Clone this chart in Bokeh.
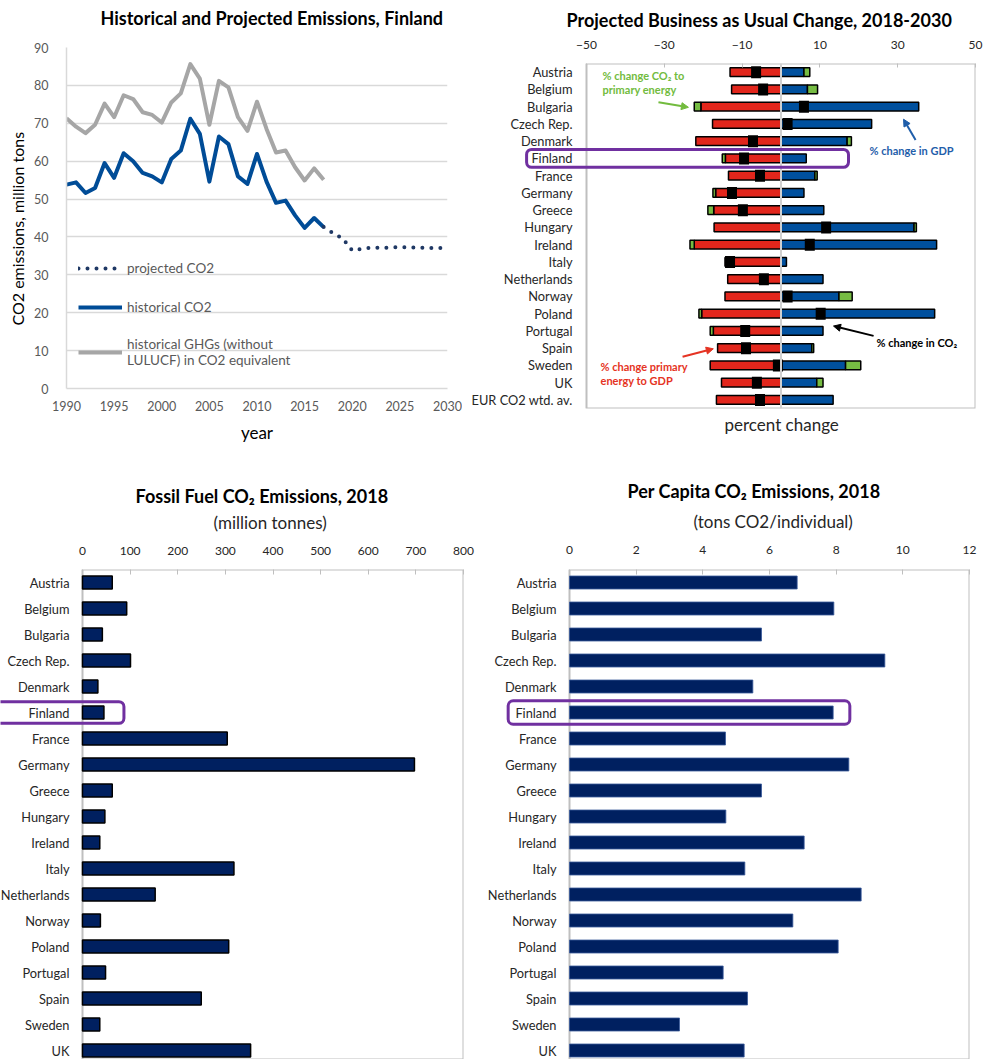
import math
from bokeh.plotting import figure
from bokeh.models import (Range1d, FixedTicker, Span, BoxAnnotation, Arrow, NormalHead, Legend,
                          LegendItem, Title, Label)
from bokeh.layouts import row, column
from bokeh.embed import file_html
from bokeh.resources import INLINE
from bokeh.core.properties import value

# ---------------- data ----------------
years_hist = list(range(1990, 2018))
co2_hist = [53.8, 54.4, 51.6, 52.9, 59.5, 55.6, 62.1, 60.0, 56.9, 56.0, 54.4, 60.6, 62.8, 71.2,
            67.2, 54.6, 66.5, 64.5, 56.0, 54.0, 61.9, 54.6, 49.0, 49.6, 45.7, 42.4, 45.0, 42.6]
ghg_hist = [71.3, 69.1, 67.4, 69.6, 75.2, 71.6, 77.4, 76.4, 72.9, 72.2, 70.2, 75.5, 77.9, 85.6,
            81.8, 69.6, 81.2, 79.5, 71.6, 68.0, 75.7, 68.5, 62.3, 62.8, 58.4, 54.9, 58.1, 55.1]
years_proj = list(range(2017, 2031))
co2_proj = [42.6, 41.0, 39.6, 36.4, 36.9, 37.2, 37.1, 37.2, 37.3, 37.2, 37.2, 37.1, 37.1, 37.0]
year_ticks = list(range(1990, 2031, 5))
emis_ticks = list(range(0, 91, 10))

bau_countries = ["Austria", "Belgium", "Bulgaria", "Czech Rep.", "Denmark", "Finland", "France",
                 "Germany", "Greece", "Hungary", "Ireland", "Italy", "Netherlands", "Norway",
                 "Poland", "Portugal", "Spain", "Sweden", "UK", "EUR CO2 wtd. av."]
gdp_change = [5.9, 6.8, 35.4, 23.3, 17.0, 6.5, 8.7, 5.9, 11.0, 34.2, 40.0, 1.4, 10.8, 14.9,
              39.5, 10.8, 7.9, 16.6, 9.2, 13.4]
energy_to_gdp_change = [-13.1, -12.7, -20.6, -17.6, -21.9, -14.3, -13.5, -16.8, -17.3, -17.2,
                        -22.3, -14.4, -13.7, -14.4, -20.4, -17.4, -16.3, -18.2, -15.3, -16.6]
co2_to_energy_change = [1.5, 2.6, -1.7, 0.0, 1.1, -0.8, 0.6, -0.7, -1.5, 0.6, -1.1, 0.0, 0.0, 3.4,
                        -0.7, -0.8, 0.5, 3.9, 1.6, 0.0]
co2_change = [-6.4, -4.6, 5.9, 1.7, -7.2, -9.5, -5.4, -12.6, -9.8, 11.6, 7.4, -13.1, -4.4, 1.7,
              10.2, -9.2, -9.0, -0.8, -6.2, -5.4]
bau_ticks = [-50, -30, -10, 10, 30, 50]

countries = bau_countries[:19]
fossil_co2 = [62.5, 92.8, 41.7, 100.8, 32.3, 45.0, 303.9, 697.0, 62.5, 47.0, 36.3, 318.0, 152.6,
              37.6, 307.0, 48.4, 249.4, 36.3, 353.0]
fossil_ticks = list(range(0, 801, 100))
per_capita = [6.83, 7.93, 5.76, 9.46, 5.50, 7.91, 4.68, 8.38, 5.76, 4.69, 7.04, 5.26, 8.75, 6.70,
              8.06, 4.61, 5.34, 3.30, 5.24]
percap_ticks = list(range(0, 13, 2))
highlight = "Finland"

# ---------------- style ----------------
FONT = "Lato"
TXT = "#262626"
GRID = "#D9D9D9"
FRAME = "#BFBFBF"
PURPLE = "#7030A0"
RED = "#E2261C"
BLUE = "#00509E"
GREEN = "#76BC43"
NAVY = "#002060"


def make_fig(w, h, left, right, top, bottom, x_range, y_range, xloc="below", yloc="left"):
    p = figure(width=w, height=h, x_range=x_range, y_range=y_range, output_backend="svg",
               toolbar_location=None, title=None, x_axis_location=xloc, y_axis_location=yloc,
               min_border_left=left, min_border_right=right,
               min_border_top=top, min_border_bottom=bottom)
    p.outline_line_color = None
    p.xgrid.grid_line_color = None
    p.ygrid.grid_line_color = None
    for ax in p.axis:
        ax.major_label_text_font = FONT
        ax.major_label_text_color = TXT
        ax.minor_tick_line_color = None
        ax.major_tick_out = 0
        ax.major_tick_in = 0
    return p


def gap(p, px):
    # an empty title used only as vertical spacing in the panel above the frame
    p.add_layout(Title(text=" ", text_font_size="1px", standoff=max(px - 1.2, 0)), "above")


def add_title(p, text, size, offset, standoff, bold=True, side="above", color="black"):
    # offset = distance of the text's start from the frame's left (or bottom) edge
    p.add_layout(Title(text=text, align="left", offset=offset, standoff=standoff,
                       text_font=FONT, text_font_size=f"{size}px",
                       text_font_style="bold" if bold else "normal", text_color=color), side)


def note(p, x, y, text, color):
    p.add_layout(Label(x=x, y=y, text=text, text_font=FONT, text_font_size="11px",
                       text_font_style="bold", text_color=color, text_align="left",
                       text_baseline="middle"))


def arrow(p, x0, y0, x1, y1, color):
    p.add_layout(Arrow(end=NormalHead(size=7, fill_color=color, line_color=color),
                       x_start=x0, y_start=y0, x_end=x1, y_end=y1,
                       line_color=color, line_width=2))


def box(p, left, right, top=None, bottom=None, color=FRAME, width=2, radius=0, level="annotation"):
    p.add_layout(BoxAnnotation(left=left, right=right, top=top, bottom=bottom, fill_alpha=0,
                               line_color=color, line_alpha=1.0, line_width=width,
                               border_radius=radius, level=level))


# ---------------- chart 1: line chart ----------------
p1 = make_fig(462, 468, 66, 15, 47, 80, Range1d(1990, 2030), Range1d(0, 90))
p1.xaxis.ticker = FixedTicker(ticks=year_ticks)
p1.yaxis.ticker = FixedTicker(ticks=emis_ticks)
p1.ygrid.grid_line_color = GRID
p1.ygrid.grid_line_width = 1.5
for ax in p1.axis:
    ax.axis_line_color = GRID
    ax.axis_line_width = 1.5
    ax.major_label_text_color = "#595959"
    ax.major_label_text_font_size = "12.5px"
    ax.axis_label_text_font = FONT
    ax.axis_label_text_font_style = "normal"
    ax.axis_label_text_color = "black"
p1.xaxis.major_label_standoff = 12
p1.yaxis.major_label_standoff = 18
p1.xaxis.axis_label = "year"
p1.xaxis.axis_label_text_font_size = "17px"
p1.xaxis.axis_label_standoff = 8
# vertical axis title, placed as a side title so that it is centred like the reference
add_title(p1, "CO2 emissions, million tons", 16, 63, 9, bold=False, side="left")

r_ghg = p1.line(years_hist, ghg_hist, line_color="#A6A6A6", line_width=4, line_join="round")
r_hist = p1.line(years_hist, co2_hist, line_color="#004C97", line_width=4, line_join="round")
r_proj = p1.line(years_proj, co2_proj, line_color="#1F3864", line_width=4, line_dash="0 9",
                 line_cap="round")
leg = Legend(items=[LegendItem(label="projected CO2", renderers=[r_proj]),
                    LegendItem(label="historical CO2", renderers=[r_hist]),
                    LegendItem(label="historical GHGs (without\nLULUCF) in CO2 equivalent",
                               renderers=[r_ghg])],
             location=(12, 20), orientation="vertical", glyph_width=44, glyph_height=20,
             label_height=20, label_standoff=5, spacing=19, padding=0, margin=0,
             border_line_color=None, background_fill_alpha=0,
             label_text_font=FONT, label_text_font_size="13.5px", label_text_color="#595959",
             label_text_line_height=1.4)
p1.add_layout(leg)
gap(p1, 17)
add_title(p1, "Historical and Projected Emissions, Finland", 18, 34, 0)

# ---------------- chart 2: BAU decomposition ----------------
n = len(bau_countries)
idx = list(range(n))
P2_FRAME_LEFT, P2_CHART_LEFT, P2_CHART_RIGHT = 466, 586, 975
u2 = (bau_ticks[-1] - bau_ticks[0]) / (P2_CHART_RIGHT - P2_CHART_LEFT)
x2_start = bau_ticks[0] - (P2_CHART_LEFT - P2_FRAME_LEFT) * u2
p2 = make_fig(523, 468, 4, 10, 61, 60, Range1d(x2_start, bau_ticks[-1]),
              Range1d(n - 0.5, -0.5), xloc="above", yloc=None)
p2.xaxis.ticker = FixedTicker(ticks=bau_ticks)
p2.xaxis.axis_line_color = None
p2.xaxis.major_tick_in = 4
p2.xaxis.major_tick_line_color = FRAME
p2.xaxis.major_label_standoff = 15
p2.xaxis.major_label_text_font_size = "12px"
box(p2, bau_ticks[0], bau_ticks[-1], level="underlay")
p2.text(x=[bau_ticks[0]] * n, y=idx, text=bau_countries, x_offset=-14, text_align="right",
        text_baseline="middle", text_font=value(FONT), text_font_size="12.8px", text_color=TXT)

p2.hbar(y=idx, left=0, right=gdp_change, height=0.5, fill_color=BLUE, line_color="black",
        line_width=1.5)
p2.hbar(y=idx, left=energy_to_gdp_change, right=0, height=0.5, fill_color=RED,
        line_color="black", line_width=1.5)
g_y, g_l, g_r = [], [], []
for i, (g, e, c) in enumerate(zip(gdp_change, energy_to_gdp_change, co2_to_energy_change)):
    if c == 0:
        continue
    g_y.append(i)
    if c > 0:
        g_l.append(g); g_r.append(g + c)
    else:
        g_l.append(e + c); g_r.append(e)
p2.hbar(y=g_y, left=g_l, right=g_r, height=0.5, fill_color=GREEN, line_color="black",
        line_width=1.5)
p2.rect(x=co2_change, y=idx, width=10, height=12, width_units="screen", height_units="screen",
        fill_color="black", line_color=None)
p2.add_layout(Span(location=0, dimension="height", line_color="#D0D0D0", line_width=2))

fi = bau_countries.index(highlight)
box(p2, -65.4, 17.35, fi - 0.52, fi + 0.52, color=PURPLE, width=3, radius=5)

add_title(p2, "Projected Business as Usual Change, 2018-2030", 18, 100, 13)
add_title(p2, "percent change", 17, 258, 6, bold=False, side="below", color=TXT)

AG, AB, AR = "#72BB3E", "#1F5EAA", "#E53323"
note(p2, -45.9, 0.17, "% change CO₂ to", AG)
note(p2, -45.9, 1.0, "primary energy", AG)
arrow(p2, -31.5, 1.75, -23.8, 2.04, AG)
note(p2, 22.75, 4.57, "% change in GDP", AB)
arrow(p2, 34.6, 3.94, 31.5, 2.73, AB)
note(p2, 24.55, 15.68, "% change in CO₂", "black")
arrow(p2, 23.8, 15.29, 13.5, 14.72, "black")
note(p2, -46.4, 17.06, "% change primary", AR)
note(p2, -46.4, 17.89, "energy to GDP", AR)
arrow(p2, -25.3, 16.5, -17.4, 16.04, AR)

# ---------------- chart 3 & 4: bar charts ----------------
ROW_PX = 26
m = len(countries)
cidx = list(range(m))
ci = countries.index(highlight)
BOT_H, BOT_TOP = 591, 101
yr = (BOT_H - BOT_TOP) / ROW_PX - 0.5


def bar_chart(w, right_border, chart_left_px, chart_right_px, ticks, vals, outline, box_lr,
              box_half, tick_standoff):
    u = (ticks[-1] - ticks[0]) / (chart_right_px - chart_left_px)
    x_start = ticks[0] - chart_left_px * u
    p = make_fig(w, BOT_H, 0, right_border, BOT_TOP, 0, Range1d(x_start, ticks[-1]),
                 Range1d(yr, -0.5), xloc="above", yloc=None)
    p.xaxis.ticker = FixedTicker(ticks=ticks)
    p.xaxis.axis_line_color = None
    p.xaxis.major_tick_in = 5
    p.xaxis.major_tick_line_color = FRAME
    p.xaxis.major_label_standoff = tick_standoff
    p.xaxis.major_label_text_font_size = "12px"
    box(p, ticks[0], ticks[-1], level="underlay")
    if outline:
        p.hbar(y=cidx, left=0, right=vals, height=0.5, fill_color=NAVY, line_color="black",
               line_width=1.5)
    else:
        p.hbar(y=cidx, left=0, right=vals, height=0.5, fill_color=NAVY, line_color="#3A5A9A",
               line_width=0.8)
    p.text(x=[ticks[0]] * m, y=cidx, text=countries, x_offset=-13, text_align="right",
           text_baseline="middle", text_font=value(FONT), text_font_size="12.8px",
           text_color=TXT)
    box(p, box_lr[0], box_lr[1], ci - box_half, ci + box_half, color=PURPLE, width=3, radius=5)
    return p


p3 = bar_chart(478, 15, 82, 463, fossil_ticks, fossil_co2, True, (-200, 87), 0.415, 15)
gap(p3, 9.5)
add_title(p3, "(million tonnes)", 17, 213, 0, bold=False, color=TXT)
gap(p3, 1.2)
add_title(p3, "Fossil Fuel CO₂ Emissions, 2018", 18, 135, 0)

p4 = bar_chart(507, 16, 91, 491, percap_ticks, per_capita, False, (-1.84, 8.41), 0.45, 16)
gap(p4, 8.9)
add_title(p4, "(tons CO2/individual)", 17, 215, 0, bold=False, color=TXT)
gap(p4, 4.8)
add_title(p4, "Per Capita CO₂ Emissions, 2018", 18, 149, 0)

layout = column(row(column(p1), column(p2)), row(column(p3), column(p4)))
open("out.html", "w").write(file_html(layout, INLINE))
